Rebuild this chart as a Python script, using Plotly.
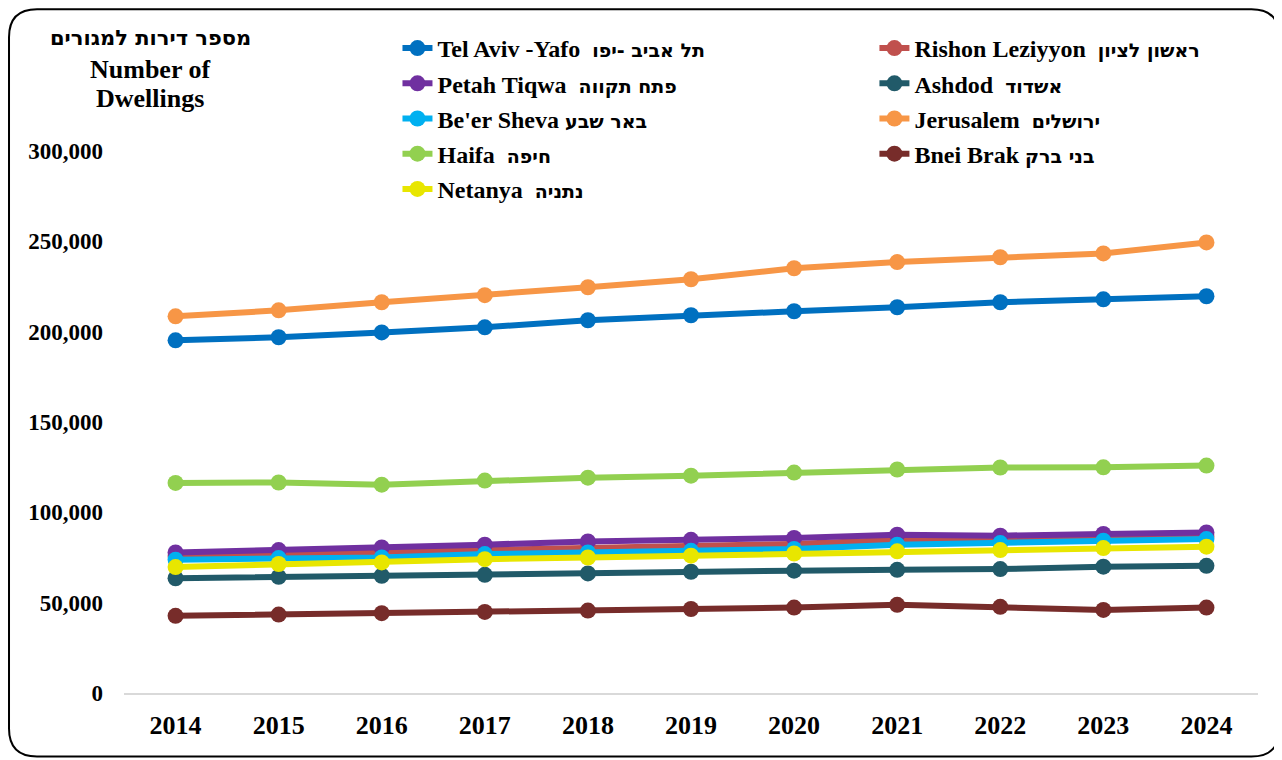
import plotly.graph_objects as go

years = ["2014", "2015", "2016", "2017", "2018", "2019", "2020", "2021", "2022", "2023", "2024"]

tel_aviv = [195200, 196900, 199600, 202400, 206300, 209100, 211300, 213500, 216300, 217900, 219600]
rishon = [75800, 77000, 77800, 79300, 80600, 81100, 82500, 84800, 84800, 86100, 86500]
petah_tiqwa = [77800, 79100, 80600, 82100, 83900, 84800, 85800, 87600, 87100, 88000, 88900]
ashdod = [63500, 64300, 64900, 65400, 66200, 67100, 67700, 68200, 68600, 69900, 70400]
beer_sheva = [73800, 74700, 75000, 76900, 77800, 78700, 79700, 82100, 83000, 84300, 85200]
jerusalem = [208500, 211800, 216300, 220200, 224600, 229000, 235100, 238500, 241200, 243300, 249400]
haifa = [116300, 116500, 115300, 117600, 119200, 120300, 122000, 123700, 124800, 124900, 125900]
bnei_brak = [42700, 43400, 44200, 44900, 45600, 46500, 47300, 48800, 47700, 46000, 47300]
netanya = [69700, 71400, 72300, 74100, 75000, 76000, 77200, 78400, 79100, 80200, 81000]

# (english, hebrew, values, colour, legend column)
series = [
    ("Tel Aviv -Yafo  ", "תל אביב -יפו", tel_aviv, "#0070C0", "legend"),
    ("Rishon Leziyyon  ", "ראשון לציון", rishon, "#C0504D", "legend2"),
    ("Petah Tiqwa  ", "פתח תקווה", petah_tiqwa, "#7030A0", "legend"),
    ("Ashdod  ", "אשדוד", ashdod, "#215A69", "legend2"),
    ("Be'er Sheva ", "באר שבע", beer_sheva, "#00B0F0", "legend"),
    ("Jerusalem  ", "ירושלים", jerusalem, "#F79646", "legend2"),
    ("Haifa  ", "חיפה", haifa, "#92D050", "legend"),
    ("Bnei Brak ", "בני ברק", bnei_brak, "#772C2A", "legend2"),
    ("Netanya  ", "נתניה", netanya, "#E8E600", "legend"),
]

FONT = "Liberation Serif, Times New Roman, serif"
# page has an 8px body margin, so the figure is a bit smaller than the window
W, H = 1274, 752
ML, MR, MT, MB = 115.5, 24.4, 143, 67


def heb(t, size):
    # Hebrew in a sans font that has a real bold face
    return (f"<span style=\"font-family:'DejaVu Sans';font-weight:bold;"
            f"font-size:{size}px\">{t}</span>")


fig = go.Figure()
for i, (en, he, vals, col, leg) in enumerate(series):
    fig.add_trace(go.Scatter(
        x=years, y=vals, name=en + heb(he, 19), mode="lines+markers",
        line=dict(color=col, width=6),
        marker=dict(color=col, size=16),
        legend=leg, legendgroup=str(i),
    ))

pw = W - ML - MR
ph = H - MT - MB


def px(x):
    return (x - ML) / pw


def py(y):
    return (H - MB - y) / ph


# rounded outer frame
x0, y0, x1, y1, r = 0.5, 1.3, 1271, 748.5, 28
path = (
    f"M {px(x0 + r)},{py(y0)} L {px(x1 - r)},{py(y0)} "
    f"Q {px(x1)},{py(y0)} {px(x1)},{py(y0 + r)} "
    f"L {px(x1)},{py(y1 - r)} Q {px(x1)},{py(y1)} {px(x1 - r)},{py(y1)} "
    f"L {px(x0 + r)},{py(y1)} Q {px(x0)},{py(y1)} {px(x0)},{py(y1 - r)} "
    f"L {px(x0)},{py(y0 + r)} Q {px(x0)},{py(y0)} {px(x0 + r)},{py(y0)} Z"
)
fig.add_shape(type="path", path=path, xref="paper", yref="paper",
              line=dict(color="black", width=2), layer="below")

title_lines = [(heb("מספר דירות למגורים", 21), 30), ("Number of", 61), ("Dwellings", 91)]
for txt, ty in title_lines:
    fig.add_annotation(
        text=txt, xref="paper", yref="paper", x=px(142), y=py(ty),
        xanchor="center", yanchor="middle", showarrow=False,
        font=dict(family=FONT, size=26, color="black", weight="bold"),
    )

leg_common = dict(
    font=dict(family=FONT, size=24, color="black", weight="bold"),
    bgcolor="rgba(0,0,0,0)", tracegroupgap=1, yanchor="top",
    xanchor="left", orientation="v",
)

fig.update_layout(
    width=W, height=H,
    margin=dict(l=ML, r=MR, t=MT, b=MB),
    paper_bgcolor="white", plot_bgcolor="white",
    font=dict(family=FONT, color="black"),
    showlegend=True,
    legend=dict(x=px(389), y=py(18), **leg_common),
    legend2=dict(x=px(866), y=py(18), **leg_common),
    xaxis=dict(
        type="category", range=[-0.5, 10.5],
        showline=True, linecolor="#D9D9D9", linewidth=1.5,
        showgrid=False, zeroline=False, ticks="",
        tickfont=dict(family=FONT, size=26, color="black", weight="bold"),
        ticklabelstandoff=8,
    ),
    yaxis=dict(
        range=[0, 300000], tickvals=[0, 50000, 100000, 150000, 200000, 250000, 300000],
        tickformat=",", showline=False, showgrid=False, zeroline=False, ticks="",
        tickfont=dict(family=FONT, size=23, color="black", weight="bold"),
        ticklabelstandoff=20,
    ),
)

fig.write_html("out.html")
